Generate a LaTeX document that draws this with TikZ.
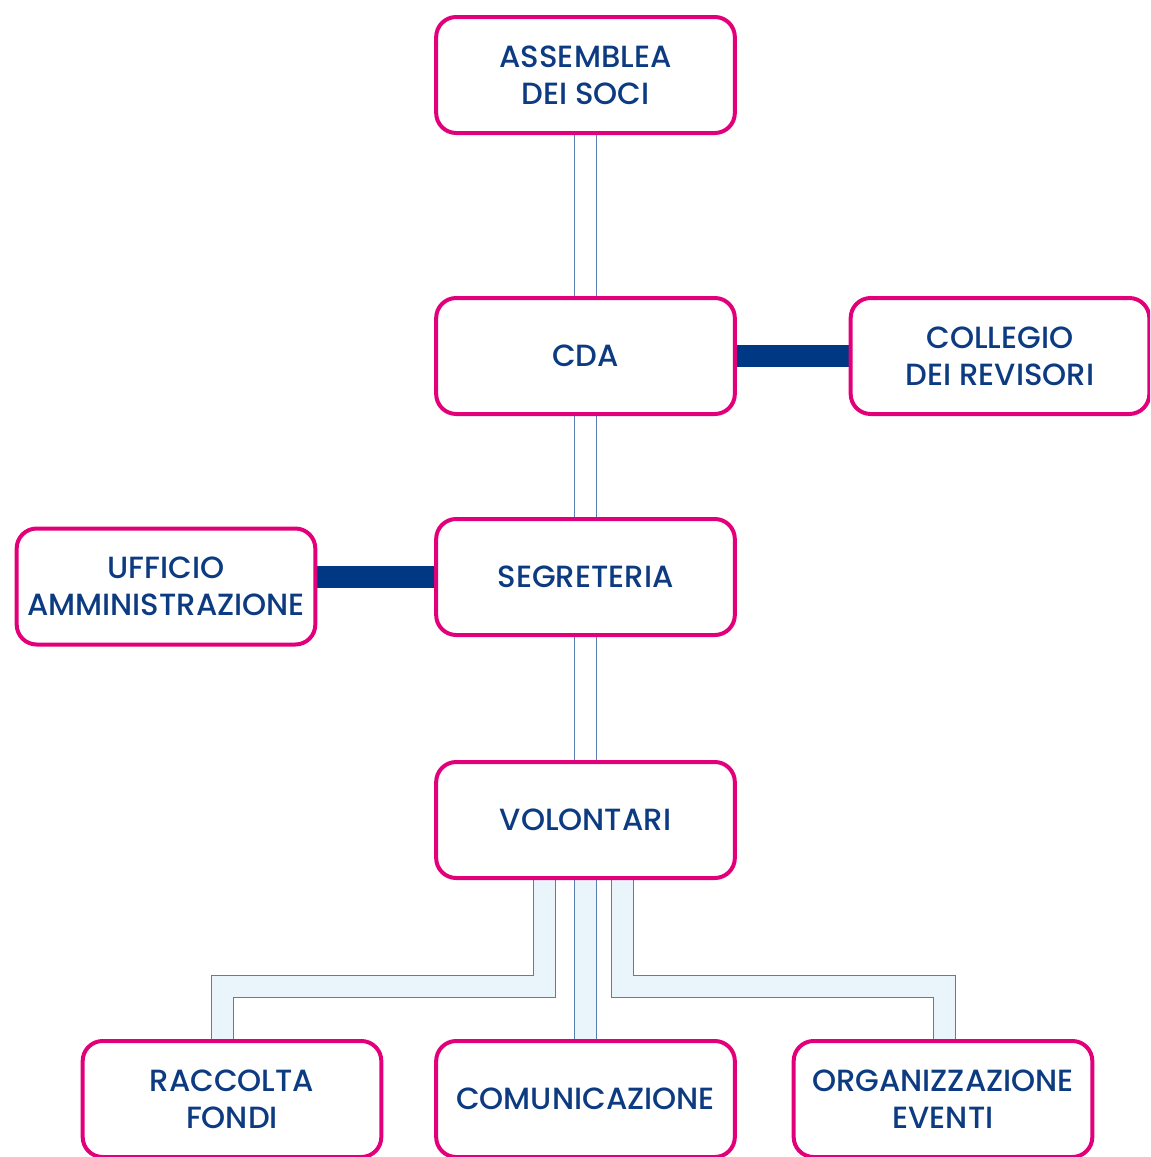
\documentclass[tikz,border=0pt]{standalone}
\usepackage{fontspec}
\setmainfont{Poppins}[UprightFont=* Medium]
\usepackage{tikz}
\usetikzlibrary{calc,backgrounds}
\definecolor{ocpink}{HTML}{E2007A}
\definecolor{ocnavy}{HTML}{0D3B82}
\definecolor{ocbar}{HTML}{003883}
\definecolor{ocline}{HTML}{5A7DB0}
\definecolor{ocfill}{HTML}{EAF4FB}
\begin{document}
\begin{tikzpicture}[x=0.75pt,y=-0.75pt]
            \tikzset{
            oc box/.style={rectangle,rounded corners=15pt,draw=ocpink,line width=3pt,fill=white,
                minimum width=224pt,minimum height=87pt,inner sep=0,align=center,
                text=ocnavy,font=\fontsize{23}{28}\selectfont},
            oc link/.style={draw=ocline,line width=1.2pt,double=white,double distance=15.5pt},
            oc feed/.style={oc link,double=ocfill},
            oc bar/.style={draw=ocbar,line width=16.5pt}
            }
            \useasboundingbox (0,0) rectangle (1150,1157);
            \clip (0,0) rectangle (1150,1157);
            \node[oc box] (asm) at (585.5, 75) {ASSEMBLEA\\DEI SOCI};
            \node[oc box] (cda) at (585.5, 356) {CDA};
            \node[oc box] (col) at (1000, 356) {COLLEGIO\\DEI REVISORI};
            \node[oc box] (seg) at (585.5, 577) {SEGRETERIA};
            \node[oc box] (uff) at (166, 586.5) {UFFICIO\\AMMINISTRAZIONE};
            \node[oc box] (vol) at (585.5, 820) {VOLONTARI};
            \node[oc box] (rac) at (232, 1099) {RACCOLTA\\FONDI};
            \node[oc box] (com) at (585.5, 1099) {COMUNICAZIONE};
            \node[oc box] (org) at (943, 1099) {ORGANIZZAZIONE\\EVENTI};
            \coordinate (lk) at (222.5, 986.5);
            \coordinate (rk) at (944.5, 986.5);

            \begin{scope}[on background layer]
            \draw[oc link] (asm) -- (cda);
            \draw[oc link] (cda) -- (seg);
            \draw[oc link] (seg) -- (vol);
            \draw[oc bar] (cda) -- (col);
            \draw[oc bar] (seg.west) -- (seg.west -| uff.east);
            \draw[oc feed] (vol) -- (com);
            \draw[oc feed] ($(vol.south)+(-41,0)$) |- (lk) -- (lk |- rac.north);
            \draw[oc feed] ($(vol.south)+(37,0)$) |- (rk) -- (rk |- org.north);
            \end{scope}
        \end{tikzpicture}
\end{document}
